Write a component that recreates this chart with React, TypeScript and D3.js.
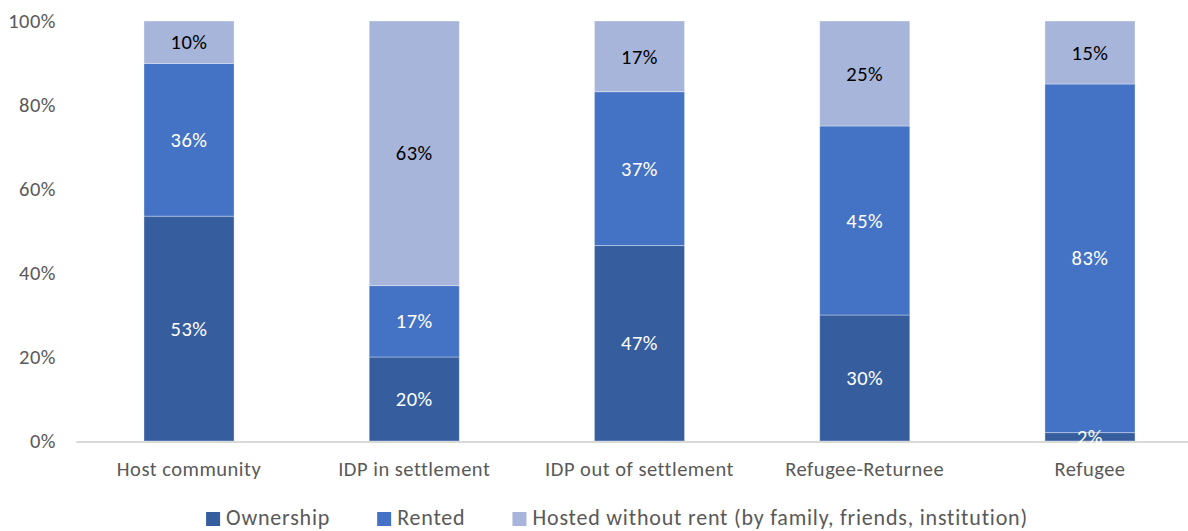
import React, { useEffect, useRef } from "react";
import * as d3 from "d3";

const categories = ["Host community", "IDP in settlement", "IDP out of settlement", "Refugee-Returnee", "Refugee"];
const seriesNames = ["Ownership", "Rented", "Hosted without rent (by family, friends, institution)"];
const ownership = [53, 20, 47, 30, 2];
const rented = [36, 17, 37, 45, 83];
const hosted = [10, 63, 17, 25, 15];
const yTicks = [0, 0.2, 0.4, 0.6, 0.8, 1];
const colors = ["#365E9F", "#4472C4", "#A8B5DA"];
const labelColors = ["#ffffff", "#ffffff", "#000000"];

const W = 1188;
const H = 531;
const FONT = "Carlito, Calibri, Lato, 'Open Sans', sans-serif";

export default function App() {
  const ref = useRef<SVGSVGElement>(null);

  useEffect(() => {
    const svg = d3.select(ref.current);
    svg.selectAll("*").remove();

    const keys = ["own", "rent", "host"];
    const rows = categories.map((c, i) => ({ cat: c, own: ownership[i], rent: rented[i], host: hosted[i] }));
    const stack = d3.stack<any>().keys(keys).offset(d3.stackOffsetExpand);
    const layers = stack(rows);

    const x = d3.scaleBand().domain(categories).range([76.4, 1202.6]).paddingInner(0.6).paddingOuter(0.3);
    const y = d3.scaleLinear().domain([0, 1]).range([441, 21]);

    const g = svg.append("g").attr("font-family", FONT);

    // y tick labels
    g.selectAll(".ytick")
      .data(yTicks)
      .join("text")
      .attr("x", 56)
      .attr("y", (d) => y(d))
      .attr("dy", "0.35em")
      .attr("text-anchor", "end")
      .attr("font-size", 20.5)
      .attr("letter-spacing", 0.5)
      .attr("fill", "#595959")
      .text((d) => d3.format(".0%")(d));

    // bars
    layers.forEach((layer, li) => {
      g.append("g")
        .selectAll("rect")
        .data(layer)
        .join("rect")
        .attr("x", (d: any) => x(d.data.cat)!)
        .attr("y", (d: any) => y(d[1]))
        .attr("width", x.bandwidth())
        .attr("height", (d: any) => y(d[0]) - y(d[1]))
        .attr("fill", colors[li])
        .attr("stroke", "#ffffff")
        .attr("stroke-opacity", 0.35)
        .attr("stroke-width", 1);
    });

    // axis line
    g.append("line")
      .attr("x1", 76.4)
      .attr("x2", W)
      .attr("y1", y(0) + 1)
      .attr("y2", y(0) + 1)
      .attr("stroke", "#D9D9D9")
      .attr("stroke-width", 2);

    // data labels
    const vals = [ownership, rented, hosted];
    layers.forEach((layer, li) => {
      g.append("g")
        .selectAll("text")
        .data(layer)
        .join("text")
        .attr("x", (d: any) => x(d.data.cat)! + x.bandwidth() / 2)
        .attr("y", (d: any) => (y(d[0]) + y(d[1])) / 2)
        .attr("dy", "0.35em")
        .attr("text-anchor", "middle")
        .attr("font-size", 20.5)
        .attr("letter-spacing", 0.5)
        .attr("fill", labelColors[li])
        .text((d: any, i: number) => vals[li][i] + "%");
    });

    // category labels
    g.selectAll(".cat")
      .data(categories)
      .join("text")
      .attr("x", (d) => x(d)! + x.bandwidth() / 2)
      .attr("y", 476)
      .attr("text-anchor", "middle")
      .attr("font-size", 20.5)
      .attr("letter-spacing", 0.5)
      .attr("fill", "#595959")
      .text((d) => d);

    // legend
    const lg = g.append("g");
    const items = seriesNames.map((n, i) => {
      const it = lg.append("g");
      it.append("rect").attr("x", 0).attr("y", -13).attr("width", 14).attr("height", 14).attr("fill", colors[i]);
      const t = it
        .append("text")
        .attr("x", 20)
        .attr("y", 0)
        .attr("font-size", 22)
        .attr("letter-spacing", 0.8)
        .attr("fill", "#595959")
        .text(n);
      const w = 20 + (t.node() as SVGTextElement).getComputedTextLength();
      return { it, w };
    });
    const gap = 47;
    const total = d3.sum(items, (d) => d.w) + gap * (items.length - 1);
    let cx = (W - total) / 2 + 23;
    items.forEach(({ it, w }) => {
      it.attr("transform", `translate(${cx},525)`);
      cx += w + gap;
    });
  }, []);

  return (
    <svg ref={ref} width={W} height={H} style={{ position: "absolute", left: 0, top: 0, background: "#fff" }} />
  );
}
